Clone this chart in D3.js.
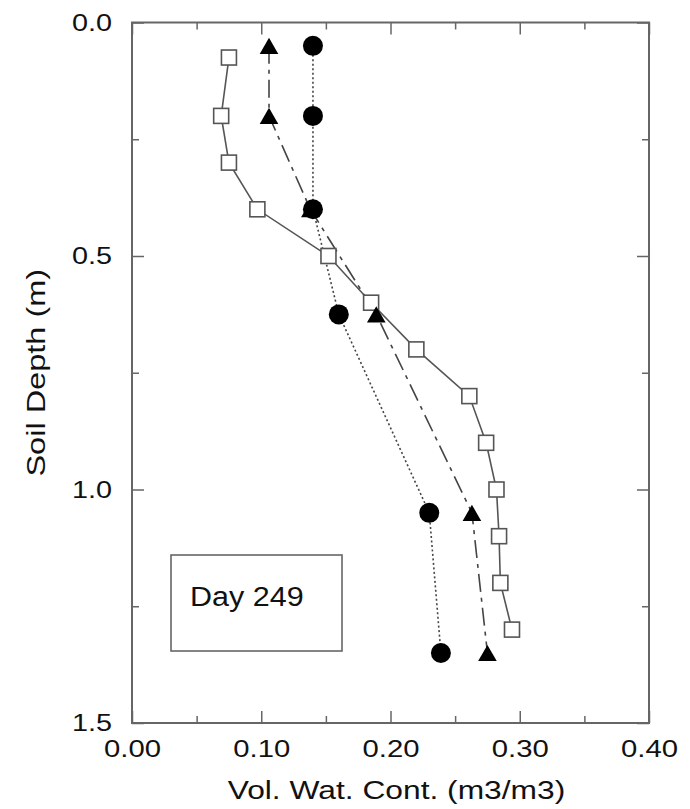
<!DOCTYPE html>
<html>
<head>
<meta charset="utf-8">
<script src="https://cdn.jsdelivr.net/npm/d3@7"></script>
<style>
  html, body { margin: 0; padding: 0; background: #fff; }
  svg { display: block; }
  text { font-family: "Liberation Sans", Arial, Helvetica, sans-serif; fill: #111; }
</style>
</head>
<body>
<svg id="chart" width="690" height="809"></svg>
<script>
// ---- data ----
const squareDepths = [0.075, 0.2, 0.3, 0.4, 0.5, 0.6, 0.7, 0.8, 0.9, 1.0, 1.1, 1.2, 1.3];
const squareValues = [0.075, 0.069, 0.075, 0.097, 0.152, 0.185, 0.220, 0.261, 0.274, 0.282, 0.284, 0.285, 0.294];
const circleDepths = [0.05, 0.2, 0.4, 0.625, 1.05, 1.35];
const circleValues = [0.140, 0.140, 0.140, 0.160, 0.230, 0.239];
const triangleDepths = [0.05, 0.2, 0.4, 0.625, 1.05, 1.35];
const triangleValues = [0.106, 0.106, 0.138, 0.189, 0.263, 0.275];
const xTicks = [0.00, 0.10, 0.20, 0.30, 0.40];
const xMinorTicks = [0.05, 0.15, 0.25, 0.35];
const yTicks = [0.0, 0.5, 1.0, 1.5];
const yMinorTicks = [0.25, 0.75, 1.25];
const xTitle = "Vol. Wat. Cont. (m3/m3)";
const yTitle = "Soil Depth (m)";
const legendLabel = "Day 249";

// ---- layout ----
const svg = d3.select("#chart");
const pL = 132, pR = 649, pT = 22.5, pB = 723;
const x = d3.scaleLinear().domain([0, 0.4]).range([pL, pR]);
const y = d3.scaleLinear().domain([0, 1.5]).range([pT, pB]);
const axisColor = "#666";
const STRETCH = 1.25;

function stretch(sel, k) {
  sel.each(function () {
    const w = this.getComputedTextLength();
    this.setAttribute("textLength", w * (k || STRETCH));
    this.setAttribute("lengthAdjust", "spacingAndGlyphs");
  });
}

// frame
svg.append("rect")
  .attr("x", pL).attr("y", pT)
  .attr("width", pR - pL).attr("height", pB - pT)
  .attr("fill", "none").attr("stroke", axisColor).attr("stroke-width", 2);

function styleAxis(g) {
  g.select(".domain").remove();
  g.selectAll(".tick line").attr("stroke", axisColor).attr("stroke-width", 1.5);
}

// bottom axis (labels)
const gB = svg.append("g").attr("transform", `translate(0,${pB})`)
  .call(d3.axisBottom(x).tickValues(xTicks).tickFormat(d3.format(".2f")).tickSize(-12).tickPadding(17));
styleAxis(gB);
gB.selectAll("text").attr("font-size", 24).attr("fill", "#111").call(stretch, 1.22);
svg.append("g").attr("transform", `translate(0,${pB})`)
  .call(d3.axisBottom(x).tickValues(xMinorTicks).tickFormat("").tickSize(-7)).call(styleAxis);
// top axis
svg.append("g").attr("transform", `translate(0,${pT})`)
  .call(d3.axisTop(x).tickValues(xTicks).tickFormat("").tickSize(-12)).call(styleAxis);
svg.append("g").attr("transform", `translate(0,${pT})`)
  .call(d3.axisTop(x).tickValues(xMinorTicks).tickFormat("").tickSize(-7)).call(styleAxis);
// left axis (labels)
const gL = svg.append("g").attr("transform", `translate(${pL},0)`)
  .call(d3.axisLeft(y).tickValues(yTicks).tickFormat(d3.format(".1f")).tickSize(-12).tickPadding(20));
styleAxis(gL);
gL.selectAll("text").attr("font-size", 24).attr("fill", "#111").call(stretch, 1.2);
svg.append("g").attr("transform", `translate(${pL},0)`)
  .call(d3.axisLeft(y).tickValues(yMinorTicks).tickFormat("").tickSize(-7)).call(styleAxis);
// right axis
svg.append("g").attr("transform", `translate(${pR},0)`)
  .call(d3.axisRight(y).tickValues(yTicks).tickFormat("").tickSize(-12)).call(styleAxis);
svg.append("g").attr("transform", `translate(${pR},0)`)
  .call(d3.axisRight(y).tickValues(yMinorTicks).tickFormat("").tickSize(-7)).call(styleAxis);

// axis titles
svg.append("text").attr("x", (pL + pR) / 2 + 6).attr("y", 799)
  .attr("text-anchor", "middle").attr("font-size", 25).text(xTitle).call(stretch, 1.27);
svg.append("text").attr("transform", `translate(45,${(pT + pB) / 2}) rotate(-90)`)
  .attr("text-anchor", "middle").attr("font-size", 26).text(yTitle).call(stretch);

// ---- series ----
const squares = squareDepths.map((d, i) => ({ d, v: squareValues[i] }));
const circles = circleDepths.map((d, i) => ({ d, v: circleValues[i] }));
const triangles = triangleDepths.map((d, i) => ({ d, v: triangleValues[i] }));
const line = d3.line().x(p => x(p.v)).y(p => y(p.d));

svg.append("path").datum(squares).attr("d", line)
  .attr("fill", "none").attr("stroke", "#555").attr("stroke-width", 1.6);
svg.append("path").datum(triangles).attr("d", line)
  .attr("fill", "none").attr("stroke", "#444").attr("stroke-width", 1.6)
  .attr("stroke-dasharray", "18,6,4,6");
svg.append("path").datum(circles).attr("d", line)
  .attr("fill", "none").attr("stroke", "#444").attr("stroke-width", 1.6)
  .attr("stroke-dasharray", "2,2.5");

// markers
const sqSize = 15;
svg.append("g").selectAll("rect").data(squares).join("rect")
  .attr("x", p => x(p.v) - sqSize / 2).attr("y", p => y(p.d) - sqSize / 2)
  .attr("width", sqSize).attr("height", sqSize)
  .attr("fill", "#fff").attr("stroke", "#555").attr("stroke-width", 1.6);

// triangle centred on its bounding box
const triArea = 150;
const tri = d3.symbol().type(d3.symbolTriangle).size(triArea);
const triOffset = Math.sqrt(triArea / (3 * Math.sqrt(3))) / 2;
svg.append("g").selectAll("path").data(triangles).join("path")
  .attr("d", tri)
  .attr("transform", p => `translate(${x(p.v)},${y(p.d) + triOffset})`)
  .attr("fill", "#000");

svg.append("g").selectAll("circle").data(circles).join("circle")
  .attr("cx", p => x(p.v)).attr("cy", p => y(p.d)).attr("r", 10)
  .attr("fill", "#000");

// legend box
svg.append("rect").attr("x", 171).attr("y", 555).attr("width", 171).attr("height", 96)
  .attr("fill", "#fff").attr("stroke", axisColor).attr("stroke-width", 1.6);
svg.append("text").attr("x", 190).attr("y", 606).attr("font-size", 27).text(legendLabel).call(stretch, 1.13);
</script>
</body>
</html>
